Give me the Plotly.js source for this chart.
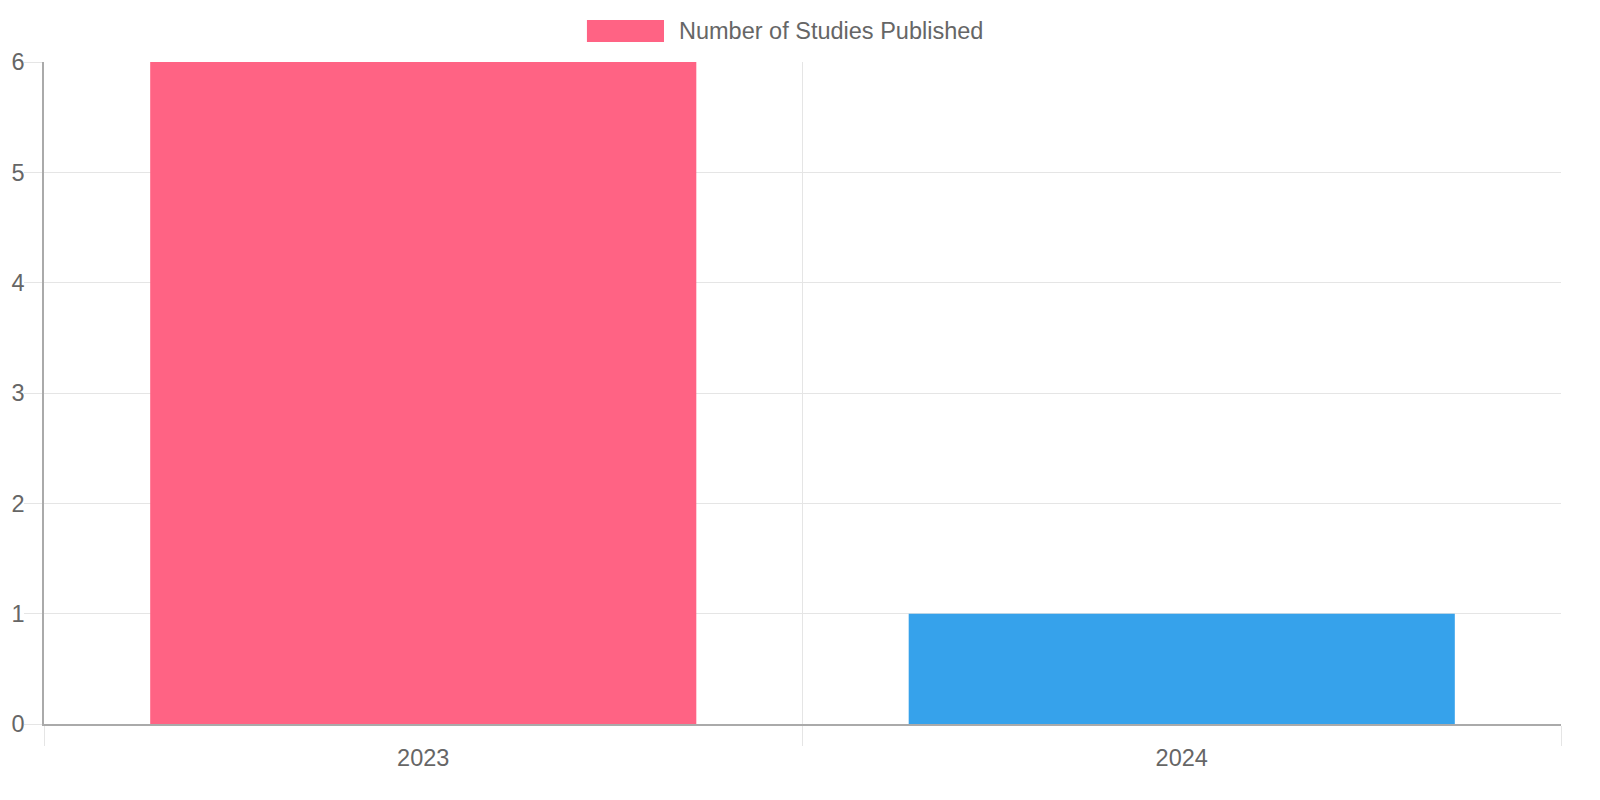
<!DOCTYPE html>
<html>
<head>
<meta charset="utf-8">
<script src="https://cdn.plot.ly/plotly-3.0.1.min.js"></script>
<style>
  html, body { margin: 0; padding: 0; background: #fff; }
  #studies_chart { width: 1600px; height: 800px; }
</style>
</head>
<body>
<div id="studies_chart"></div>
<script>
var YEARS = ['2023', '2024'];
var STUDIES = [6, 1];
var BAR_COLORS = ['#FF6384', '#36A2EB'];
var SERIES_NAME = 'Number of Studies Published';

var STUDIES_CHART = document.getElementById('studies_chart');

function studiesChart(years, studies, colors)
{
    var trace1 = {x: years,
                  y: studies,
                  type: 'bar',
                  name: SERIES_NAME,
                  marker: {color: colors, line: {width: 0}},
                  hoverinfo: 'x+y'
                 };

    var font = {family: 'Liberation Sans, Arial, sans-serif', size: 23.5, color: '#666666'};

    // legend drawn by hand so the swatch keeps the wide box look
    var layout = {showlegend: false,
                  width: 1600,
                  height: 800,
                  margin: {l: 44, r: 39, t: 62, b: 76},
                  bargap: 0.28,
                  font: font,
                  paper_bgcolor: '#ffffff',
                  plot_bgcolor: '#ffffff',
                  xaxis: {type: 'category',
                          tickson: 'boundaries',
                          ticks: 'outside',
                          ticklen: 20,
                          tickcolor: '#e5e5e5',
                          showgrid: true,
                          gridcolor: '#e5e5e5',
                          showline: true,
                          linecolor: '#aaaaaa',
                          linewidth: 1.5,
                          zeroline: false,
                          ticklabelstandoff: 12,
                          tickfont: font
                         },
                  yaxis: {range: [0, 6],
                          dtick: 1,
                          ticks: 'outside',
                          ticklen: 18,
                          tickcolor: '#e5e5e5',
                          showgrid: true,
                          gridcolor: '#e5e5e5',
                          showline: true,
                          linecolor: '#aaaaaa',
                          linewidth: 1.5,
                          zeroline: false,
                          ticklabelstandoff: -5,
                          tickfont: font
                         },
                  shapes: [{type: 'rect', xref: 'paper', yref: 'paper',
                            x0: 0.3579, x1: 0.4087, y0: 1.0302, y1: 1.0634,
                            fillcolor: colors[0], line: {width: 0}}],
                  annotations: [{xref: 'paper', yref: 'paper',
                                 x: 0.4173, y: 1.0468,
                                 xanchor: 'left', yanchor: 'middle',
                                 showarrow: false,
                                 text: SERIES_NAME,
                                 font: font}]
                 };

    var config = {'displayModeBar': false, 'responsive': false};

    Plotly.newPlot(STUDIES_CHART, [trace1], layout, config);
}

studiesChart(YEARS, STUDIES, BAR_COLORS);
</script>
</body>
</html>
